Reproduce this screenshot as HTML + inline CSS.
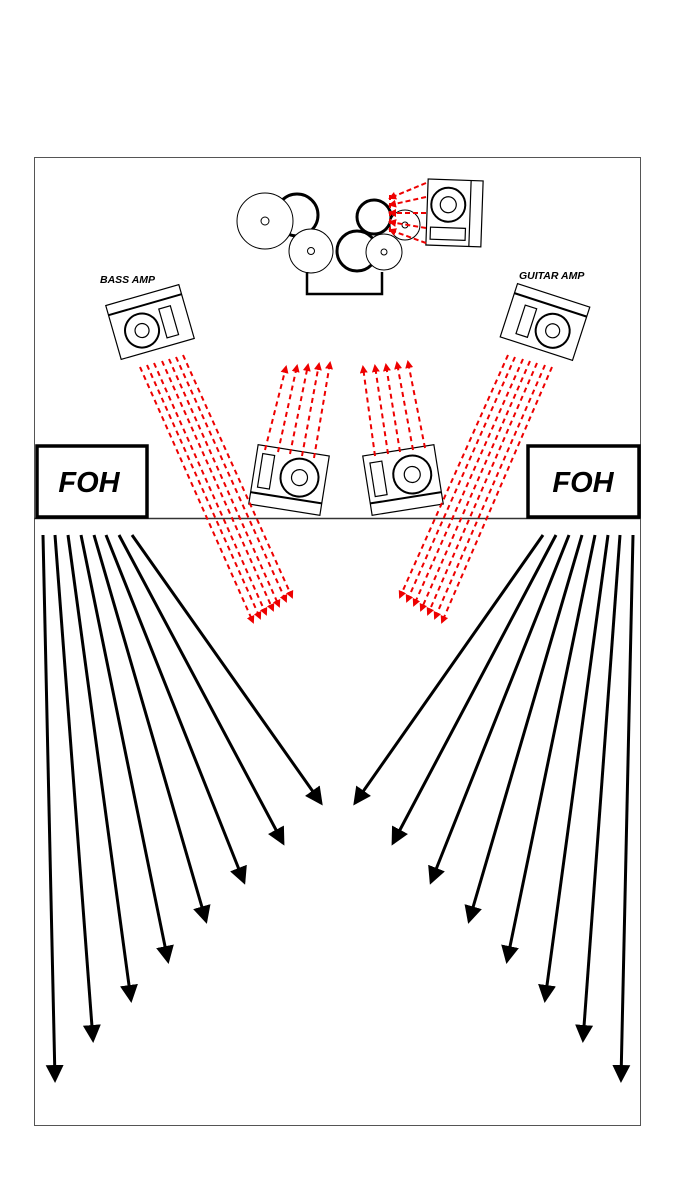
<!DOCTYPE html>
<html><head><meta charset="utf-8"><style>
html,body{margin:0;padding:0;background:#fff}
svg{display:block}
text{font-family:"Liberation Sans",sans-serif;font-weight:bold;font-style:italic}
</style></head><body>
<svg width="675" height="1200" viewBox="0 0 675 1200" xmlns="http://www.w3.org/2000/svg">
<defs>
<marker id="ba" markerWidth="6" markerHeight="6" refX="5" refY="3" orient="auto" markerUnits="strokeWidth"><path d="M0,0 L6,3 L0,6 z" fill="#000"/></marker>
<marker id="ra" markerWidth="4" markerHeight="4" refX="3" refY="2" orient="auto" markerUnits="strokeWidth"><path d="M0,0 L4,2 L0,4 z" fill="#e00"/></marker>
</defs>
<rect x="34.5" y="157.5" width="606" height="968" fill="none" stroke="#555" stroke-width="1"/>
<line x1="34" y1="518.5" x2="640" y2="518.5" stroke="#333" stroke-width="1.5"/>
<rect x="37" y="446" width="110" height="71" fill="#fff" stroke="#000" stroke-width="3.5"/>
<rect x="528" y="446" width="111" height="71" fill="#fff" stroke="#000" stroke-width="3.5"/>
<text x="89" y="492" font-size="29" text-anchor="middle">FOH</text>
<text x="583" y="492" font-size="29" text-anchor="middle">FOH</text>
<text x="100" y="283" font-size="10.5">BASS AMP</text>
<text x="519" y="279" font-size="10.5">GUITAR AMP</text>

<!-- drums -->
<g stroke="#000" fill="#fff">
<circle cx="297" cy="215" r="21" stroke-width="3"/>
<circle cx="265" cy="221" r="28" stroke-width="1"/>
<circle cx="265" cy="221" r="4" stroke-width="1"/>
<circle cx="374" cy="217" r="17" stroke-width="3"/>
<circle cx="357" cy="251" r="20" stroke-width="3"/>
<circle cx="311" cy="251" r="22" stroke-width="1"/>
<circle cx="311" cy="251" r="3.5" stroke-width="1"/>
<circle cx="384" cy="252" r="18" stroke-width="1"/>
<circle cx="384" cy="252" r="3" stroke-width="1"/>
<circle cx="405" cy="225" r="15" stroke-width="1"/>
<circle cx="405" cy="225" r="3" stroke-width="1"/>
<polyline points="307,272 307,294 382,294 382,272" fill="none" stroke-width="2.5"/>
</g>
<!-- drum monitor -->
<g stroke="#000" fill="#fff" stroke-width="1.2" transform="rotate(2 455 213)">
<rect x="427" y="180" width="55" height="66"/>
<line x1="470" y1="180" x2="470" y2="246"/>
<circle cx="448" cy="205" r="17" stroke-width="2"/>
<circle cx="448" cy="205" r="8"/>
<rect x="431" y="228" width="35" height="12"/>
</g>
<g stroke="#e00" stroke-width="2" stroke-dasharray="5,3" marker-end="url(#ra)" fill="none">
<line x1="426" y1="183" x2="390" y2="198"/>
<line x1="426" y1="197" x2="390" y2="205"/>
<line x1="426" y1="213" x2="390" y2="213"/>
<line x1="426" y1="228" x2="390" y2="222"/>
<line x1="426" y1="243" x2="390" y2="230"/>
<line x1="390" y1="195" x2="390" y2="233" marker-end="none"/>
</g>

<!-- bass amp -->
<g stroke="#000" fill="#fff" stroke-width="1.2" transform="translate(150,322) rotate(-16)">
<rect x="-38" y="-28" width="76" height="56"/>
<line x1="-38" y1="-18" x2="38" y2="-18" stroke-width="2"/>
<circle cx="-10" cy="6" r="17" stroke-width="2"/>
<circle cx="-10" cy="6" r="7"/>
<rect x="12" y="-10" width="12" height="30"/>
</g>
<!-- guitar amp -->
<g stroke="#000" fill="#fff" stroke-width="1.2" transform="translate(545,322) rotate(18)">
<rect x="-38" y="-28" width="76" height="56"/>
<line x1="-38" y1="-18" x2="38" y2="-18" stroke-width="2"/>
<circle cx="10" cy="6" r="17" stroke-width="2"/>
<circle cx="10" cy="6" r="7"/>
<rect x="-24" y="-10" width="12" height="30"/>
</g>
<!-- monitors -->
<g stroke="#000" fill="#fff" stroke-width="1.2" transform="translate(289,480) rotate(9)">
<rect x="-36" y="-30" width="72" height="60"/>
<line x1="-36" y1="18" x2="36" y2="18" stroke-width="2"/>
<rect x="-30" y="-22" width="12" height="34"/>
<circle cx="10" cy="-4" r="19" stroke-width="2"/>
<circle cx="10" cy="-4" r="8"/>
</g>
<g stroke="#000" fill="#fff" stroke-width="1.2" transform="translate(403,480) rotate(-9)">
<rect x="-36" y="-30" width="72" height="60"/>
<line x1="-36" y1="18" x2="36" y2="18" stroke-width="2"/>
<rect x="-30" y="-22" width="12" height="34"/>
<circle cx="10" cy="-4" r="19" stroke-width="2"/>
<circle cx="10" cy="-4" r="8"/>
</g>

<!-- red beams -->
<g stroke="#e00" stroke-width="2" stroke-dasharray="5,4" marker-end="url(#ra)" fill="none">
<line x1="140" y1="367" x2="253" y2="622"/>
<line x1="147" y1="365" x2="260" y2="618"/>
<line x1="154" y1="363" x2="266" y2="614"/>
<line x1="162" y1="361" x2="273" y2="610"/>
<line x1="169" y1="359" x2="279" y2="606"/>
<line x1="176" y1="357" x2="286" y2="601"/>
<line x1="183" y1="355" x2="292" y2="597"/>

<line x1="508" y1="355" x2="400" y2="597"/>
<line x1="515" y1="357" x2="407" y2="601"/>
<line x1="523" y1="359" x2="414" y2="605"/>
<line x1="530" y1="361" x2="421" y2="610"/>
<line x1="537" y1="363" x2="428" y2="614"/>
<line x1="545" y1="365" x2="435" y2="618"/>
<line x1="552" y1="367" x2="442" y2="622"/>

<line x1="265" y1="450" x2="286" y2="367"/>
<line x1="278" y1="452" x2="297" y2="366"/>
<line x1="290" y1="454" x2="308" y2="365"/>
<line x1="302" y1="456" x2="319" y2="364"/>
<line x1="314" y1="458" x2="330" y2="363"/>

<line x1="375" y1="456" x2="363" y2="367"/>
<line x1="388" y1="454" x2="375" y2="366"/>
<line x1="400" y1="452" x2="386" y2="365"/>
<line x1="413" y1="450" x2="397" y2="363"/>
<line x1="425" y1="448" x2="408" y2="362"/>
</g>

<!-- black arrows -->
<g stroke="#000" stroke-width="3" marker-end="url(#ba)" fill="none">
<line x1="43" y1="535" x2="55" y2="1080"/>
<line x1="55" y1="535" x2="93" y2="1040"/>
<line x1="68" y1="535" x2="131" y2="1000"/>
<line x1="81" y1="535" x2="168" y2="961"/>
<line x1="94" y1="535" x2="206" y2="921"/>
<line x1="106" y1="535" x2="244" y2="882"/>
<line x1="119" y1="535" x2="283" y2="843"/>
<line x1="132" y1="535" x2="321" y2="803"/>

<line x1="633" y1="535" x2="621" y2="1080"/>
<line x1="620" y1="535" x2="583" y2="1040"/>
<line x1="608" y1="535" x2="545" y2="1000"/>
<line x1="595" y1="535" x2="507" y2="961"/>
<line x1="582" y1="535" x2="469" y2="921"/>
<line x1="569" y1="535" x2="431" y2="882"/>
<line x1="556" y1="535" x2="393" y2="843"/>
<line x1="543" y1="535" x2="355" y2="803"/>
</g>
</svg>
</body></html>
